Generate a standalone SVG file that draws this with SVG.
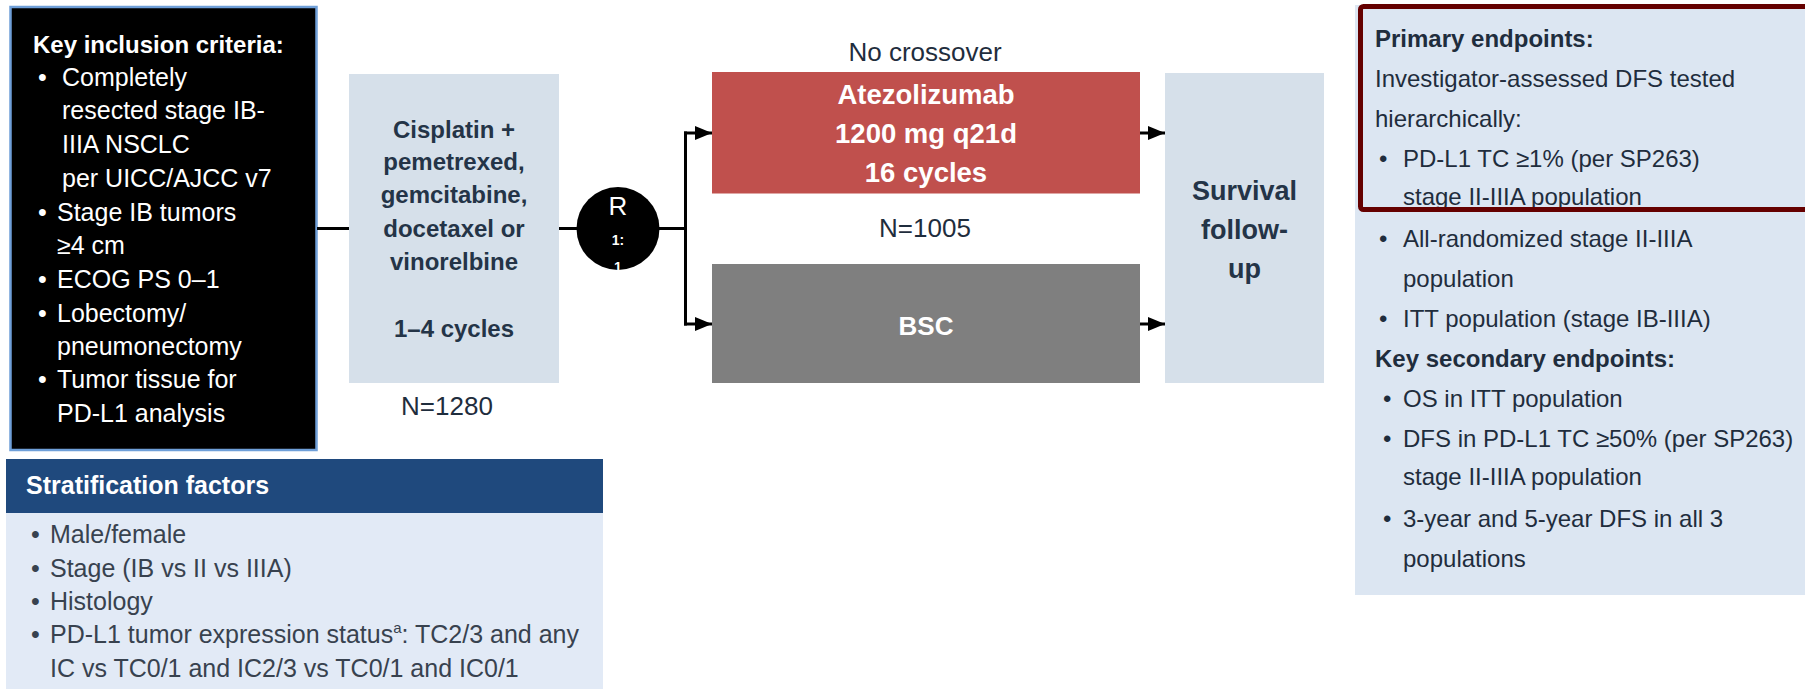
<svg xmlns="http://www.w3.org/2000/svg" width="1805" height="689" viewBox="0 0 1805 689">
<defs>
<marker id="arr" viewBox="0 0 17 14" refX="17" refY="7" markerWidth="17" markerHeight="14" markerUnits="userSpaceOnUse" orient="auto">
<path d="M0,0 L17,7 L0,14 Z" fill="#000"/>
</marker>
<style>
text{font-family:"Liberation Sans",Arial,sans-serif}
.w{fill:#fff}
.b{font-weight:bold}
.c{text-anchor:middle}
.nv{fill:#1f2d3d}
.bx{fill:#d6e0ea}
.lk{fill:#243447;font-weight:bold;text-anchor:middle}
.conn{stroke:#000;stroke-width:3;fill:none}
</style>
</defs>
<rect width="1805" height="689" fill="#fff"/>

<g id="inclusion">
<rect x="10.5" y="7" width="306" height="443" fill="#000" stroke="#6f9fd8" stroke-width="2.5"/>
<g class="w" font-size="25">
<text x="33" y="53" class="b" font-size="24">Key inclusion criteria:</text>
<text x="38" y="86">•</text><text x="62" y="86">Completely</text>
<text x="62" y="119">resected stage IB-</text>
<text x="62" y="153">IIIA NSCLC</text>
<text x="62" y="187">per UICC/AJCC v7</text>
<text x="38" y="221">•</text><text x="57" y="221">Stage IB tumors</text>
<text x="57" y="254">≥4 cm</text>
<text x="38" y="288">•</text><text x="57" y="288">ECOG PS 0–1</text>
<text x="38" y="322">•</text><text x="57" y="322">Lobectomy/</text>
<text x="57" y="355">pneumonectomy</text>
<text x="38" y="388">•</text><text x="57" y="388">Tumor tissue for</text>
<text x="57" y="422">PD-L1 analysis</text>
</g>
</g>

<g id="chemo">
<rect class="bx" x="349" y="74" width="210" height="309"/>
<g class="lk" font-size="24">
<text x="454" y="138">Cisplatin +</text>
<text x="454" y="170">pemetrexed,</text>
<text x="454" y="203">gemcitabine,</text>
<text x="454" y="237">docetaxel or</text>
<text x="454" y="270">vinorelbine</text>
<text x="454" y="337">1–4 cycles</text>
</g>
<text x="447" y="415" class="c nv" font-size="26">N=1280</text>
</g>

<g id="randomize">
<circle cx="618" cy="228.5" r="41.5" fill="#000"/>
<text x="618" y="215" class="w c" font-size="26">R</text>
<text x="618" y="245" class="w c b" font-size="14">1:</text>
<text x="618" y="272" class="w c b" font-size="14">1</text>
</g>

<g id="connectors" class="conn">
<path d="M317 228.5 H349"/>
<path d="M559 228.5 H577"/>
<path d="M659 228.5 H685.5"/>
<path d="M685.5 131.5 V325.5"/>
<path d="M684 133 H712" marker-end="url(#arr)"/>
<path d="M684 324 H712" marker-end="url(#arr)"/>
<path d="M1140 133 H1165" marker-end="url(#arr)"/>
<path d="M1140 324 H1165" marker-end="url(#arr)"/>
</g>

<g id="atezolizumab">
<text x="925" y="61" class="c nv" font-size="26">No crossover</text>
<rect x="712" y="72" width="428" height="121.5" fill="#c0504d"/>
<g class="w b c" font-size="27.5">
<text x="926" y="104">Atezolizumab</text>
<text x="926" y="143">1200 mg q21d</text>
<text x="926" y="182">16 cycles</text>
</g>
<text x="925" y="237" class="c nv" font-size="26">N=1005</text>
</g>

<g id="bsc">
<rect x="712" y="264" width="428" height="119" fill="#7f7f7f"/>
<text x="926" y="335" class="w b c" font-size="26">BSC</text>
</g>

<g id="survival">
<rect class="bx" x="1165" y="73" width="159" height="310"/>
<g class="lk" font-size="27">
<text x="1244.5" y="200">Survival</text>
<text x="1244.5" y="239">follow-</text>
<text x="1244.5" y="278">up</text>
</g>
</g>

<g id="endpoints">
<rect x="1355" y="5" width="450" height="590" fill="#dce6f2"/>
<g class="nv" font-size="24">
<text x="1375" y="47" class="b">Primary endpoints:</text>
<text x="1375" y="87">Investigator-assessed DFS tested</text>
<text x="1375" y="127">hierarchically:</text>
<text x="1379" y="167">•</text><text x="1403" y="167">PD-L1 TC ≥1% (per SP263)</text>
<text x="1403" y="205">stage II-IIIA population</text>
<text x="1379" y="247">•</text><text x="1403" y="247">All-randomized stage II-IIIA</text>
<text x="1403" y="287">population</text>
<text x="1379" y="327">•</text><text x="1403" y="327">ITT population (stage IB-IIIA)</text>
<text x="1375" y="367" class="b">Key secondary endpoints:</text>
<text x="1383" y="407">•</text><text x="1403" y="407">OS in ITT population</text>
<text x="1383" y="447">•</text><text x="1403" y="447">DFS in PD-L1 TC ≥50% (per SP263)</text>
<text x="1403" y="485">stage II-IIIA population</text>
<text x="1383" y="527">•</text><text x="1403" y="527">3-year and 5-year DFS in all 3</text>
<text x="1403" y="567">populations</text>
</g>
<rect x="1360.5" y="6.5" width="500" height="203" rx="3" fill="none" stroke="#650000" stroke-width="5"/>
</g>

<g id="stratification">
<rect x="6" y="459" width="597" height="54" fill="#1f497d"/>
<text x="26" y="494" class="w b" font-size="25">Stratification factors</text>
<rect x="6" y="513" width="597" height="176" fill="#e2eaf6"/>
<g fill="#38424f" font-size="25">
<text x="31" y="543">•</text><text x="50" y="543">Male/female</text>
<text x="31" y="577">•</text><text x="50" y="577">Stage (IB vs II vs IIIA)</text>
<text x="31" y="610">•</text><text x="50" y="610">Histology</text>
<text x="31" y="643">•</text><text x="50" y="643">PD-L1 tumor expression status<tspan font-size="15" dy="-10">a</tspan><tspan dy="10">: TC2/3 and any</tspan></text>
<text x="50" y="677">IC vs TC0/1 and IC2/3 vs TC0/1 and IC0/1</text>
</g>
</g>
</svg>
